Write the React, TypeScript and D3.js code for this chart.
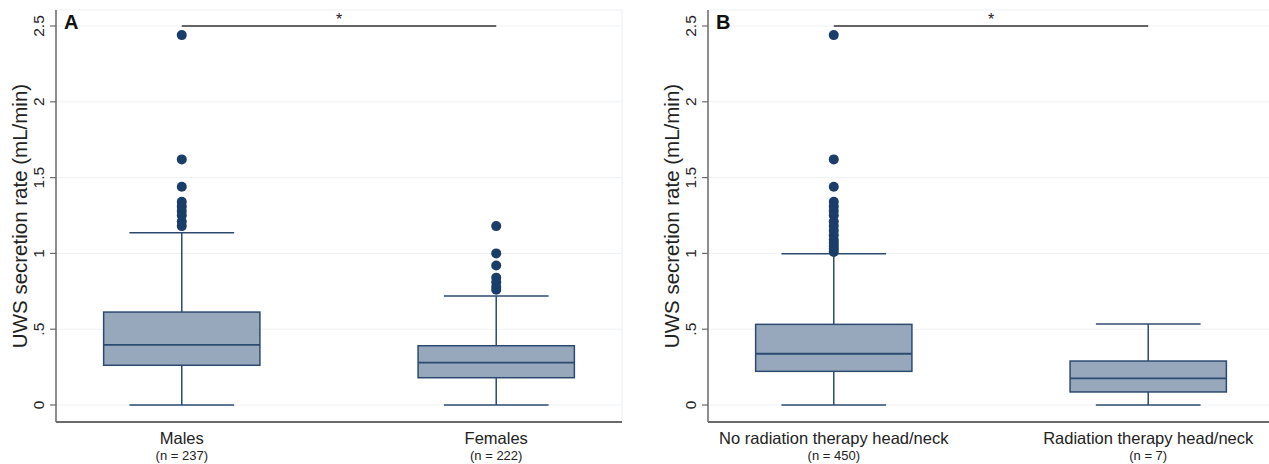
import React, { useEffect, useRef } from "react";
import * as d3 from "d3";

// box stats: [lower whisker, q1, median, q3, upper whisker]
const panelACategories = ["Males", "Females"];
const panelACounts = ["(n = 237)", "(n = 222)"];
const malesBox = [0, 0.262, 0.397, 0.613, 1.137];
const femalesBox = [0, 0.18, 0.279, 0.391, 0.719];
const malesOutliers = [2.44, 1.62, 1.44, 1.34, 1.31, 1.28, 1.25, 1.21, 1.18];
const femalesOutliers = [1.18, 1.0, 0.92, 0.84, 0.81, 0.78, 0.76];

const panelBCategories = ["No radiation therapy head/neck", "Radiation therapy head/neck"];
const panelBCounts = ["(n = 450)", "(n = 7)"];
const noRadBox = [0, 0.222, 0.338, 0.532, 0.998];
const radBox = [0, 0.086, 0.176, 0.29, 0.534];
const noRadOutliers = [2.44, 1.62, 1.44, 1.34, 1.31, 1.28, 1.25, 1.21, 1.18, 1.15, 1.12, 1.09, 1.07, 1.05, 1.03, 1.01];
const radOutliers: number[] = [];

const yTicks = [0, 0.5, 1, 1.5, 2, 2.5];
const yTickLabels = ["0", ".5", "1", "1.5", "2", "2.5"];
const yTitle = "UWS secretion rate (mL/min)";

const FONT = "'Liberation Sans', Arial, sans-serif";
const BOX_FILL = "#97a8bc";
const BOX_STROKE = "#2c4a70";
const DOT = "#1b3d69";

type Panel = {
  letter: string;
  left: number;
  cats: string[];
  counts: string[];
  boxes: number[][];
  outliers: number[][];
};

const panels: Panel[] = [
  { letter: "A", left: 56, cats: panelACategories, counts: panelACounts, boxes: [malesBox, femalesBox], outliers: [malesOutliers, femalesOutliers] },
  { letter: "B", left: 708, cats: panelBCategories, counts: panelBCounts, boxes: [noRadBox, radBox], outliers: [noRadOutliers, radOutliers] },
];

export default function App() {
  const ref = useRef<SVGSVGElement>(null);

  useEffect(() => {
    const svg = d3.select(ref.current);
    svg.selectAll("*").remove();

    const top = 10, bottom = 422, plotW = 566;
    const y = d3.scaleLinear().domain([0, 2.5]).range([405, 26]);

    panels.forEach((p) => {
      const g = svg.append("g");
      const x = d3.scalePoint<string>().domain(p.cats).range([p.left, p.left + plotW]).padding(0.4);
      const step = x.step();
      const boxW = step * 0.497;
      const capW = step * 0.333;

      // plot region frame
      g.append("rect")
        .attr("x", p.left).attr("y", top)
        .attr("width", plotW).attr("height", bottom - top)
        .attr("fill", "white").attr("stroke", "#eceff2").attr("stroke-width", 1);

      // gridlines
      g.selectAll(".grid").data(yTicks).enter().append("line")
        .attr("x1", p.left).attr("x2", p.left + plotW)
        .attr("y1", (d) => y(d)).attr("y2", (d) => y(d))
        .attr("stroke", "#eef1f4").attr("stroke-width", 1);

      // y axis
      g.append("line")
        .attr("x1", p.left).attr("x2", p.left).attr("y1", top).attr("y2", bottom)
        .attr("stroke", "#6b6b6b").attr("stroke-width", 1.5);
      g.selectAll(".tick").data(yTicks).enter().append("line")
        .attr("x1", p.left - 6).attr("x2", p.left)
        .attr("y1", (d) => y(d)).attr("y2", (d) => y(d))
        .attr("stroke", "#6b6b6b").attr("stroke-width", 1.2);
      g.selectAll(".tlab").data(yTicks).enter().append("text")
        .attr("transform", (d) => `translate(${p.left - 12},${y(d)}) rotate(-90)`)
        .attr("text-anchor", "middle")
        .attr("font-family", FONT).attr("font-size", 15.5).attr("fill", "#222")
        .text((d, i) => yTickLabels[i]);
      g.append("text")
        .attr("transform", `translate(${p.left - 29},${(top + bottom) / 2}) rotate(-90)`)
        .attr("text-anchor", "middle")
        .attr("font-family", FONT).attr("font-size", 20.5).attr("fill", "#222")
        .text(yTitle);

      // x axis
      g.append("line")
        .attr("x1", p.left).attr("x2", p.left + plotW).attr("y1", bottom).attr("y2", bottom)
        .attr("stroke", "#6b6b6b").attr("stroke-width", 2);
      g.selectAll(".xlab").data(p.cats).enter().append("text")
        .attr("x", (d) => x(d)!).attr("y", 444)
        .attr("text-anchor", "middle")
        .attr("font-family", FONT).attr("font-size", 16.5).attr("fill", "#222")
        .text((d) => d);
      g.selectAll(".nlab").data(p.counts).enter().append("text")
        .attr("x", (d, i) => x(p.cats[i])!).attr("y", 460)
        .attr("text-anchor", "middle")
        .attr("font-family", FONT).attr("font-size", 13).attr("fill", "#222")
        .text((d) => d);

      // boxes
      p.cats.forEach((c, i) => {
        const [lo, q1, med, q3, hi] = p.boxes[i];
        const cx = x(c)!;
        const bg = g.append("g");
        bg.append("line").attr("x1", cx).attr("x2", cx).attr("y1", y(lo)).attr("y2", y(q1))
          .attr("stroke", BOX_STROKE).attr("stroke-width", 1.5);
        bg.append("line").attr("x1", cx).attr("x2", cx).attr("y1", y(q3)).attr("y2", y(hi))
          .attr("stroke", BOX_STROKE).attr("stroke-width", 1.5);
        [lo, hi].forEach((v) => {
          bg.append("line").attr("x1", cx - capW / 2).attr("x2", cx + capW / 2)
            .attr("y1", y(v)).attr("y2", y(v))
            .attr("stroke", BOX_STROKE).attr("stroke-width", 1.5);
        });
        bg.append("rect")
          .attr("x", cx - boxW / 2).attr("y", y(q3))
          .attr("width", boxW).attr("height", y(q1) - y(q3))
          .attr("fill", BOX_FILL).attr("stroke", BOX_STROKE).attr("stroke-width", 1.5);
        bg.append("line").attr("x1", cx - boxW / 2).attr("x2", cx + boxW / 2)
          .attr("y1", y(med)).attr("y2", y(med))
          .attr("stroke", BOX_STROKE).attr("stroke-width", 1.8);
        bg.selectAll("circle").data(p.outliers[i]).enter().append("circle")
          .attr("cx", cx).attr("cy", (d) => y(d)).attr("r", 5)
          .attr("fill", DOT);
      });

      // significance bar
      const x1 = x(p.cats[0])!, x2 = x(p.cats[1])!;
      g.append("line").attr("x1", x1).attr("x2", x2).attr("y1", y(2.5)).attr("y2", y(2.5))
        .attr("stroke", "#333").attr("stroke-width", 1.3);
      g.append("text")
        .attr("x", (x1 + x2) / 2).attr("y", y(2.5) - 1)
        .attr("text-anchor", "middle")
        .attr("font-family", FONT).attr("font-size", 16).attr("fill", "#222")
        .text("*");

      // panel letter
      g.append("text")
        .attr("x", p.left + 8).attr("y", 29)
        .attr("font-family", FONT).attr("font-weight", "bold").attr("font-size", 20).attr("fill", "#111")
        .text(p.letter);
    });
  }, []);

  return (
    <div style={{ position: "absolute", left: 0, top: 0, width: 1269, height: 464, background: "white" }}>
      <svg ref={ref} width={1269} height={464} />
    </div>
  );
}
